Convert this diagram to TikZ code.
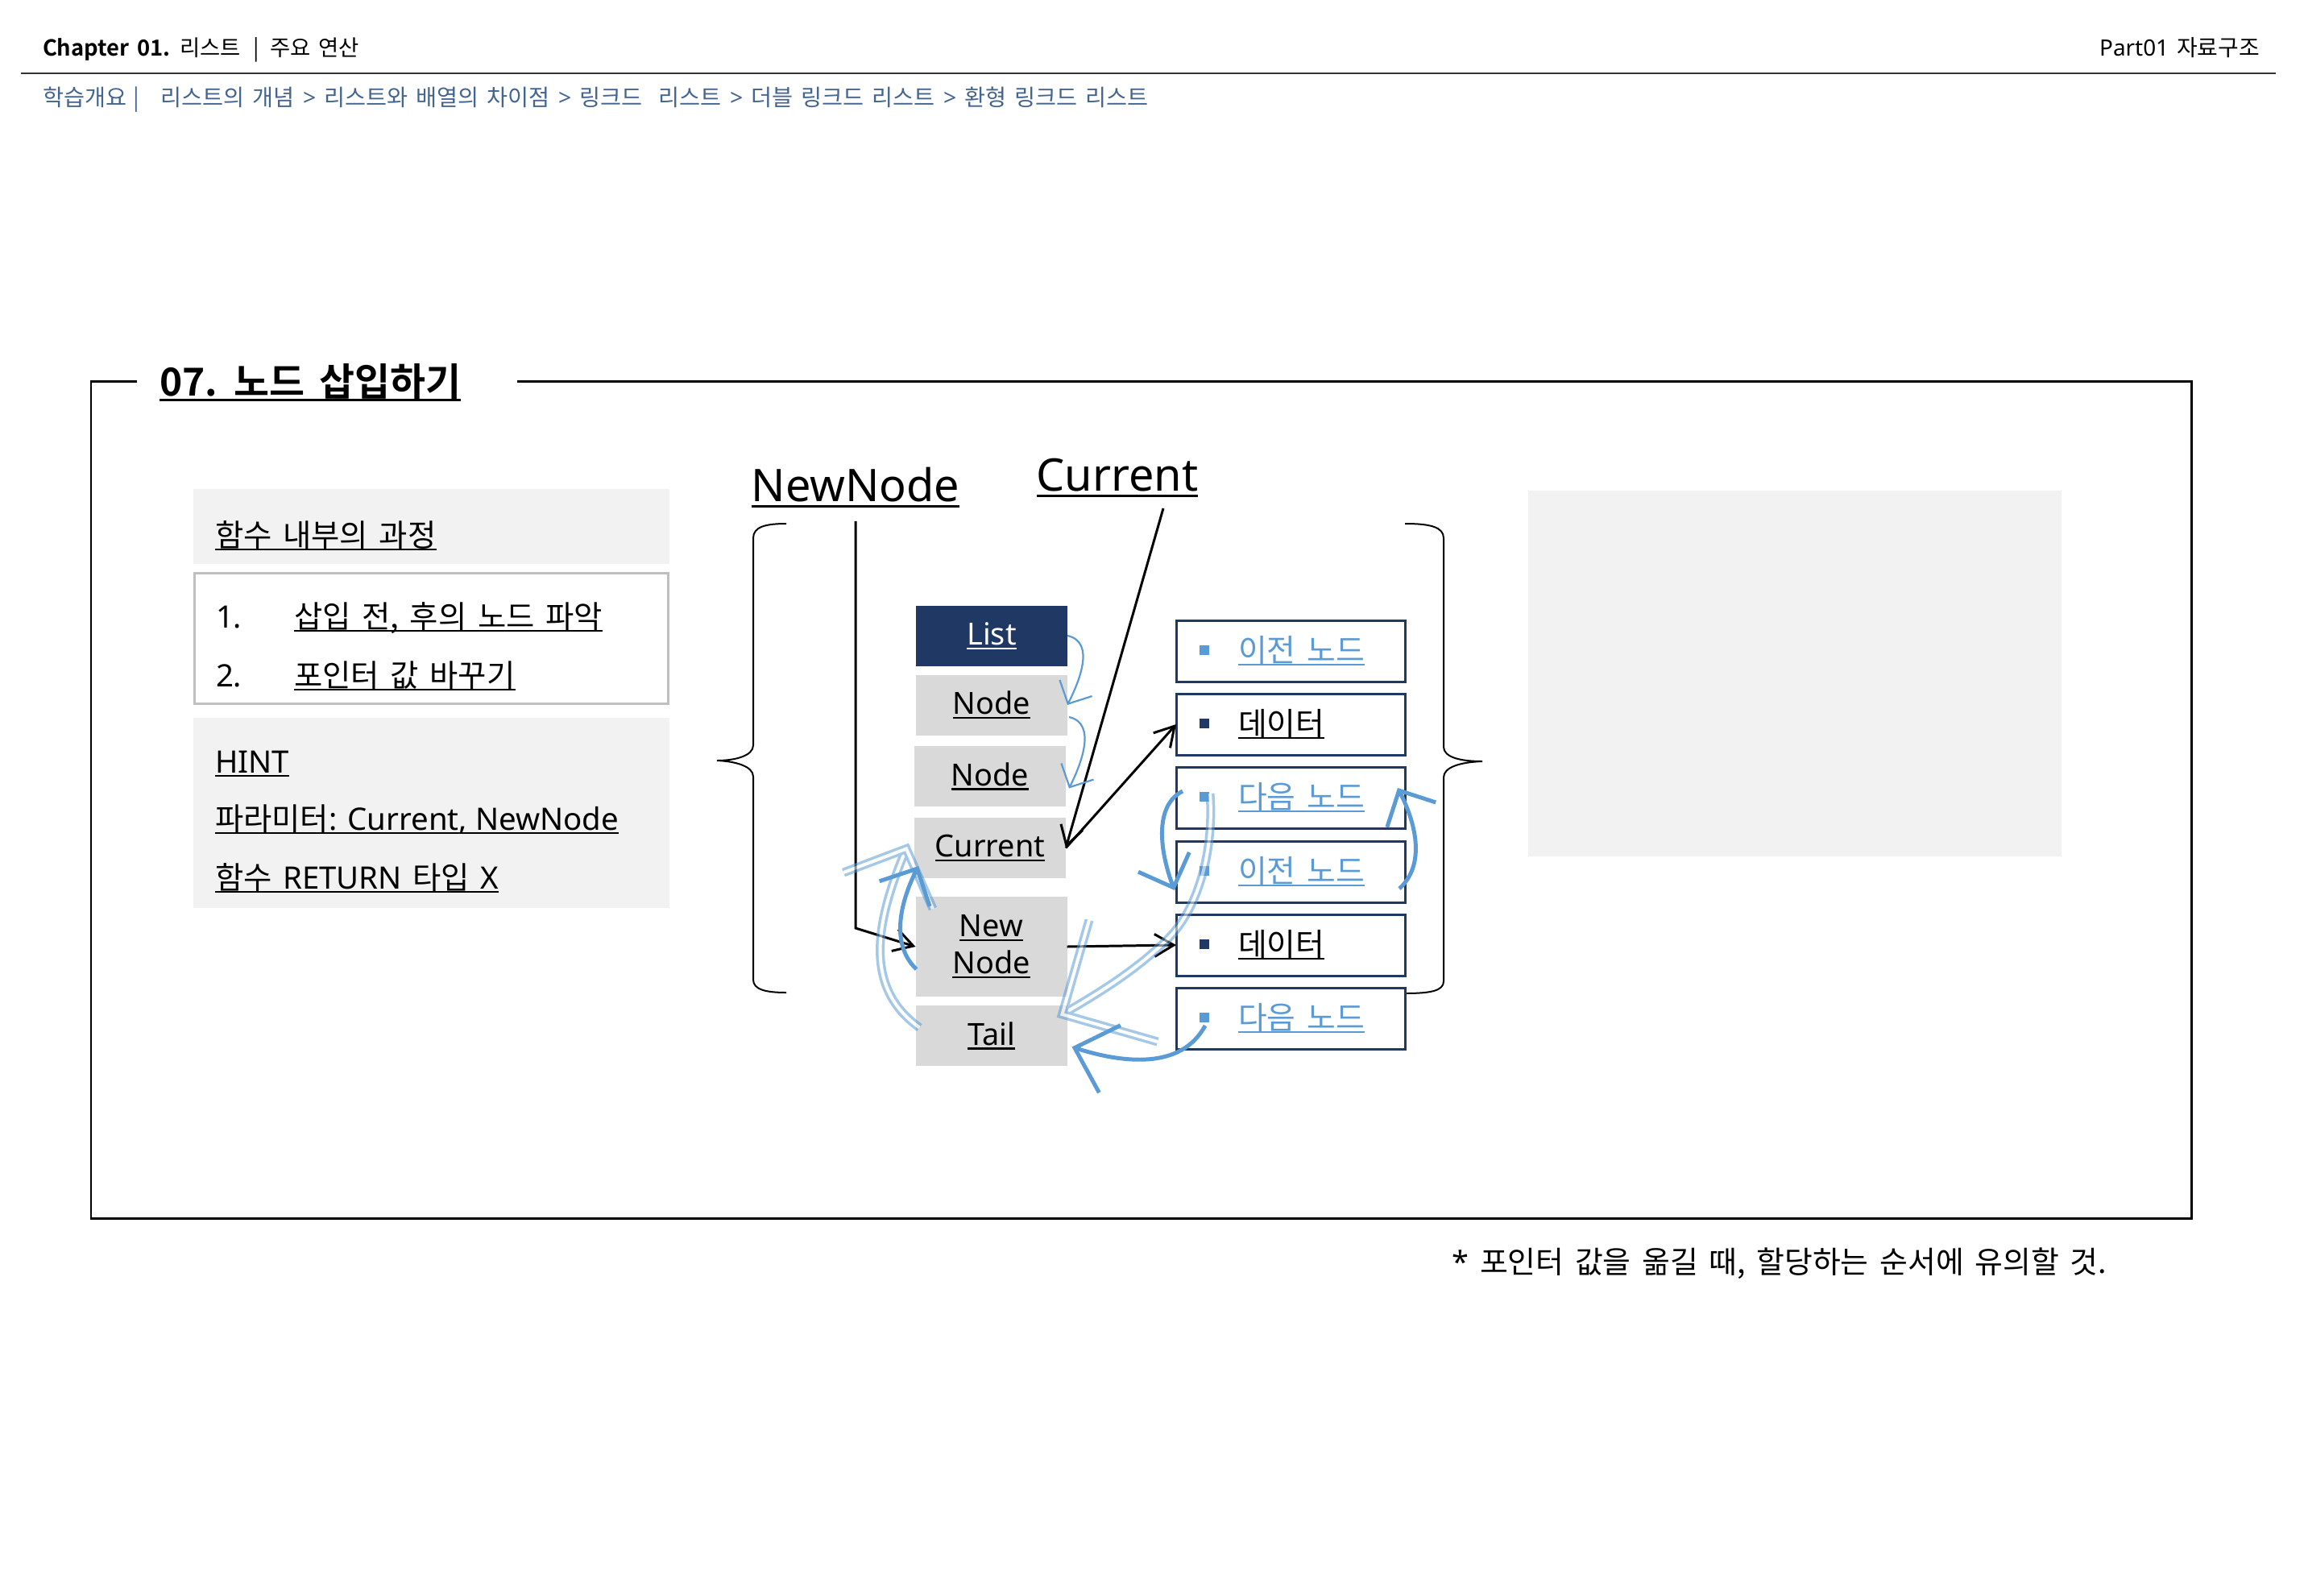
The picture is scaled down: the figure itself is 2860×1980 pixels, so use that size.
\documentclass[tikz,border=0pt]{standalone}
\usepackage{fontspec}
\setmainfont{Noto Sans CJK KR}[WordSpace=1.6,BoldFont={Noto Sans CJK KR Bold}]
\newfontfamily\latf{Noto Sans}
\usetikzlibrary{arrows.meta,calc}
\definecolor{navy}{HTML}{203864}
\definecolor{lblue}{HTML}{5B9BD5}
\definecolor{pale}{HTML}{F2F2F2}
\definecolor{midgray}{HTML}{D9D9D9}
\definecolor{edgegray}{HTML}{BFBFBF}
\definecolor{crumb}{HTML}{44658F}
\newcommand\ulx[1]{\setbox0\hbox{#1}\rlap{\rule[-0.14em]{\wd0}{0.055em}}\box0}
\newcommand\fsz[2]{\fontsize{#1}{#2}\selectfont}
\begin{document}
\begin{tikzpicture}[x=1bp,y=-1bp,
  txt/.style={anchor=base west, inner sep=0pt, outer sep=0pt},
  lbl/.style={anchor=base, inner sep=0pt, outer sep=0pt, font=\fsz{56}{64}\latf},
  midbox/.style={fill=midgray, minimum width=188bp, minimum height=75bp, inner sep=0pt, outer sep=0pt, font=\fsz{38}{46}\latf},
  listbox/.style={midbox, fill=navy, text=white},
  rbox/.style={draw=navy, line width=3pt, fill=white, minimum width=284bp, minimum height=76bp, inner sep=0pt, outer sep=0pt},
  bul/.style={minimum size=12bp, inner sep=0pt, outer sep=0pt},
  rtxt/.style={anchor=base west, inner sep=0pt, outer sep=0pt, font=\fsz{39}{46}},
  paneltxt/.style={txt, font=\fsz{38.5}{46}},
  blk/.style={draw=black, line width=3pt, -{Straight Barb[length=24pt,width=28pt]}},
  thinb/.style={draw=lblue, line width=2.2pt, -{Straight Barb[length=22pt,width=45pt]}},
  thickb/.style={draw=lblue, line width=5pt},
  dbl/.style={draw=lblue, line width=3.5pt, double=white, double distance=4pt},
  bracestyle/.style={draw=black, line width=2pt}
]
\useasboundingbox (0,0) rectangle (2860,1980);
\fill[white] (0,0) rectangle (2860,1980);

% header
\node[txt, font=\fsz{27.5}{32}] (hdr) at (53,69) {{\bfseries Chapter 01.} 리스트\hspace{15pt}|\hspace{14pt}주요 연산};
\node[anchor=base east, inner sep=0pt, font=\fsz{28}{32}] (part) at (2805,69) {{\latf Part01} 자료구조};
\draw[line width=2.5pt, black!80] (26,91) -- (2825,91);
\node[txt, font=\fsz{28.4}{32}, text=crumb] (crumbs) at (53,131) {학습개요\hspace{8pt}|\hspace{27pt}리스트의 개념 {\latf >} 리스트와 배열의 차이점 {\latf >} 링크드\ \ 리스트 {\latf >} 더블 링크드 리스트 {\latf >} 환형 링크드 리스트};

% frame and title
\draw[line width=3pt] (170,473) -- (113,473) -- (113,1512) -- (2720,1512) -- (2720,473) -- (642,473);
\node[txt, font=\fsz{48}{56}\bfseries] (title) at (198,491) {\ulx{07. 노드 삽입하기}};

% left panel
\fill[pale] (240,607) rectangle (831,700);
\draw[edgegray, line width=3pt, fill=white] (241.5,711.5) rectangle (829.5,873.5);
\fill[pale] (240,891) rectangle (831,1127);
\node[paneltxt] (p1) at (267,678) {\ulx{함수 내부의 과정}};
\node[paneltxt, font=\fsz{38.5}{46}\latf] (n1) at (268,779) {1.};
\node[paneltxt] (s1) at (365,779) {\ulx{삽입 전, 후의 노드 파악}};
\node[paneltxt, font=\fsz{38.5}{46}\latf] (n2) at (268,852) {2.};
\node[paneltxt] (s2) at (365,852) {\ulx{포인터 값 바꾸기}};
\node[paneltxt] (h1) at (267,959) {\ulx{\latf HINT}};
\node[paneltxt] (h2) at (267,1030) {\ulx{파라미터{\latf: Current, NewNode}}};
\node[paneltxt] (h3) at (267,1103) {\ulx{함수 {\latf RETURN} 타입 {\latf X}}};

% right grey panel
\fill[pale] (1897,609) rectangle (2559,1063);

% labels
\node[lbl] (lblnew) at (1062,622) {\ulx{NewNode}};
\node[lbl] (lblcur) at (1387,609) {\ulx{Current}};

% braces
\draw[bracestyle] (976,650) .. controls (950,650) and (935,654) .. (935,668) -- (935,925) .. controls (935,938) and (913,944) .. (890,944) .. controls (913,945) and (935,951) .. (935,964) -- (935,1216) .. controls (935,1228) and (950,1232) .. (976,1232);
\draw[bracestyle] (1744,650) .. controls (1775,650) and (1792,654) .. (1792,668) -- (1792,927) .. controls (1792,940) and (1813,945) .. (1840,945) .. controls (1813,946) and (1792,952) .. (1792,965) -- (1792,1218) .. controls (1792,1230) and (1775,1233) .. (1744,1233);

% middle column
\node[listbox] (list) at (1231,789) {\ulx{List}};
\node[midbox] (node1) at (1231,875) {\ulx{Node}};
\node[midbox] (node2) at (1229,963.5) {\ulx{Node}};
\node[midbox] (curr) at (1229,1052.5) {\ulx{Current}};
\node[midbox, minimum height=124bp, align=center] (newn) at (1230.5,1175) {\ulx{New}\\\ulx{Node}};
\node[midbox] (tail) at (1230.5,1285.5) {\ulx{Tail}};

% right column
\node[rbox] (r1) at (1602,808) {};
\node[rbox] (r2) at (1602,899) {};
\node[rbox] (r3) at (1602,990) {};
\node[rbox] (r4) at (1602,1082) {};
\node[rbox] (r5) at (1602,1173) {};
\node[rbox] (r6) at (1602,1264) {};
\node[bul, fill=lblue] (b1) at ($(r1.west)+(35,-1)$) {};
\node[bul, fill=navy]  (b2) at ($(r2.west)+(35,-1)$) {};
\node[bul, fill=lblue] (b3) at ($(r3.west)+(35,-1)$) {};
\node[bul, fill=lblue] (b4) at ($(r4.west)+(35,-1)$) {};
\node[bul, fill=navy]  (b5) at ($(r5.west)+(35,-1)$) {};
\node[bul, fill=lblue] (b6) at ($(r6.west)+(35,-1)$) {};
\node[rtxt, text=lblue] (t1) at ($(r1.west)+(77,13)$) {\ulx{이전 노드}};
\node[rtxt] (t2) at ($(r2.west)+(77,13)$) {\ulx{데이터}};
\node[rtxt, text=lblue] (t3) at ($(r3.west)+(77,13)$) {\ulx{다음 노드}};
\node[rtxt, text=lblue] (t4) at ($(r4.west)+(77,13)$) {\ulx{이전 노드}};
\node[rtxt] (t5) at ($(r5.west)+(77,13)$) {\ulx{데이터}};
\node[rtxt, text=lblue] (t6) at ($(r6.west)+(77,13)$) {\ulx{다음 노드}};

% black connectors
\coordinate (nnc) at (1062,1152);
\coordinate (curs) at (1444,631);
\draw[blk] ($(lblnew.south)+(0,17)$) -- (nnc) -- (newn.west);
\draw[blk] (curs) -- (curr.east);
\draw[blk] (curr.east) -- (r2.west);
\draw[blk] (newn.east) -- (r5.west);

% light double arrows (old links)
\coordinate (tipE) at ($(curr.west)+(-10,1)$);
\coordinate (tipF) at ($(tail.north east)+(-6,11)$);
\begin{scope}[transparency group, opacity=0.55]
  \draw[dbl] ($(tail.west)+(5,-10)$) .. controls (1070,1225) and (1088,1141) .. (tipE);
  \draw[dbl, line join=miter] (1047,1083) -- (tipE) -- (1158,1128);
  \draw[dbl] ($(b3.north east)+(1,2)$) .. controls (1507,1050) and (1490,1125) .. (1450,1165) .. controls (1410,1205) and (1360,1235) .. (tipF);
  \draw[dbl, line join=miter] (1352,1142) -- (tipF) -- (1437,1293);
\end{scope}

% thin blue arrows
\draw[thinb] (list.east) .. controls (1361,797) and (1338.5,848) .. (node1.east);
\draw[thinb] ($(node1.east)+(2,15)$) .. controls (1363,898) and (1340.5,951.5) .. ($(node2.east)+(4,15)$);

% thick blue arrows (new links)
\coordinate (tipN) at ($(curr.south west)+(5,-15)$);
\coordinate (tipT) at ($(tail.east)+(6,14)$);
\draw[thickb, -{Straight Barb[length=35pt,width=70pt]}] ($(newn.west)+(1,28)$) .. controls (1103,1170) and (1120,1115) .. (tipN);
\draw[thickb, -{Straight Barb[length=34pt,width=68pt]}] ($(r3.west)+(8,-8)$) .. controls (1432,1000) and (1440,1058) .. ($(r4.west)+(-2,23)$);
\draw[thickb, -{Straight Barb[length=34pt,width=68pt]}] ($(r4.east)+(-7,21)$) .. controls (1768,1075) and (1760,1027) .. ($(r3.east)+(-9,-12)$);
\draw[thickb, -{Straight Barb[length=46pt,width=88pt]}] ($(b6.south)+(1,4)$) .. controls (1466,1329) and (1392,1319) .. (tipT);

% footnote
\node[anchor=base east, inner sep=0pt, font=\fsz{38}{44}] (foot) at (2615,1580) {{\latf *} 포인터 값을 옮길 때, 할당하는 순서에 유의할 것.};
\end{tikzpicture}
\end{document}
